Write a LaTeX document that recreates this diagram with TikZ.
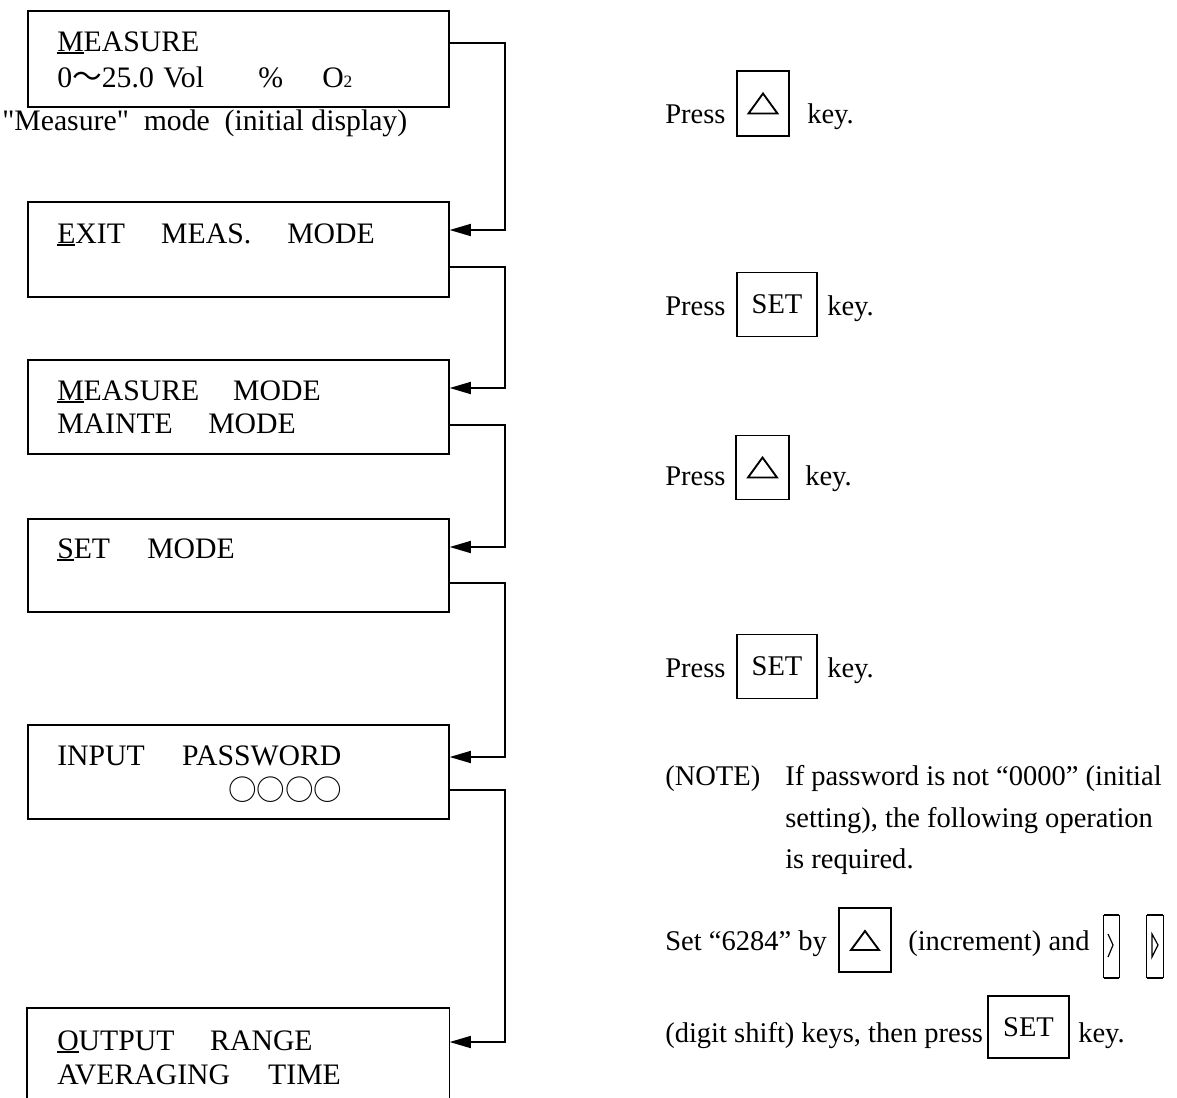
\documentclass[tikz,border=0pt]{standalone}
\usepackage{fontspec}
\setmainfont{Liberation Serif}[Ligatures=TeXOff]
\newfontfamily\cjk{Noto Sans CJK JP}
\usetikzlibrary{arrows.meta,calc}
\newdimen\px \px=0.75pt
\newcommand{\fld}[2]{\makebox[#1\px][l]{#2}}
\newcommand{\ulk}[1]{\setbox0=\hbox{#1}\rlap{\rule[-2.4pt]{\wd0}{1.3pt}}#1}
\newcommand{\dsub}[1]{{\fontsize{13}{13}\selectfont #1}}
\tikzset{
  lcd/.style={rectangle, draw=black, line width=1.2pt, anchor=north west,
    minimum width=421*0.75pt, minimum height=#1*0.75pt, inner sep=0pt},
  lcd/.default=95,
  disp/.style={anchor=base west, inner sep=0pt, font=\fontsize{22.3}{27}\selectfont},
  note/.style={anchor=base west, inner sep=0pt, font=\fontsize{21.4}{26}\selectfont},
  keybox/.style={draw=black, line width=1.4pt, inner sep=0pt, font=\fontsize{21.4}{26}\selectfont,
    minimum width=#1*0.75pt, minimum height=64*0.75pt},
  keybox/.default=52,
  shiftkey/.style={inner sep=0pt, minimum width=#1*0.75pt, minimum height=63*0.75pt},
  flow/.style={-{Triangle[length=16pt,width=9pt]}, line width=1.4pt},
  tri/.style={line width=1.4pt, line join=miter},
}

\begin{document}
\begin{tikzpicture}[x=0.75pt, y=-0.75pt]
    \useasboundingbox (0,0) rectangle (1177,1097);

    \node[lcd=96] (b1) at (27,10) {};
    \node[lcd] (b2) at (27,201) {};
    \node[lcd=94] (b3) at (27,359) {};
    \node[lcd=93] (b4) at (27,518) {};
    \node[lcd=94] (b5) at (27,724) {};
    \node[lcd=89, draw=none] (b6) at (27,1008) {};
    \draw[line width=1.2pt] (b6.south west) -- (b6.north west) -- (b6.north east) -- (b6.south east);

    \node[disp] (t1a) at (57,51) {\ulk{M}EASURE};
    \node[disp] (t1b) at (57,87) {\fld{106}{0{\cjk 〜}25.0}\fld{95}{Vol}\fld{64}{\%}O\dsub{2}};
    \node[disp] (cap) at (2,130) {"Measure"\ \ mode\ \ (initial display)};
    \node[disp] (t2a) at (57,243) {\fld{104}{\ulk{E}XIT}\fld{126}{MEAS.}MODE};
    \node[disp] (t3a) at (57,400) {\fld{176}{\ulk{M}EASURE}MODE};
    \node[disp] (t3b) at (57,433) {\fld{151}{MAINTE}MODE};
    \node[disp] (t4a) at (57,558) {\fld{90}{\ulk{S}ET}MODE};
    \node[disp] (t5a) at (57,765) {\fld{125}{INPUT}PASSWORD};
    \node[disp, font={\cjk\fontsize{21.4}{26}\selectfont}] (t5b) at (228,800) {○○○○};
    \node[disp] (t6a) at (57,1050) {\fld{153}{\ulk{O}UTPUT}RANGE};
    \node[disp] (t6b) at (57,1084) {\fld{211}{AVERAGING}TIME};

    \draw[flow] ($(b1.north east)+(0,33)$) -- ++(55,0) |- ($(b2.north east)+(0,29)$);
    \draw[flow] ($(b2.north east)+(0,66)$) -- ++(55,0) |- ($(b3.north east)+(0,29)$);
    \draw[flow] ($(b3.north east)+(0,66)$) -- ++(55,0) |- ($(b4.north east)+(0,29)$);
    \draw[flow] ($(b4.north east)+(0,65)$) -- ++(55,0) |- ($(b5.north east)+(0,33)$);
    \draw[flow] ($(b5.north east)+(0,66)$) -- ++(55,0) |- ($(b6.north east)+(0,34)$);

    \node[note] (p1) at (665,123) {Press};
    \node[keybox, minimum height=65*0.75pt] (k1) at (763,103.5) {};
    \draw[tri] ($(k1.center)+(-14.5,10)$) -- ++(29,0) -- ++(-14.5,-20) -- cycle;
    \node[note] (y1) at (807,123) {key.};

    \node[note] (p2) at (665,315) {Press};
    \node[keybox=80] (k2) at (777,304.5) {SET};
    \node[note] (y2) at (827,315) {key.};

    \node[note] (p3) at (665,485) {Press};
    \node[keybox=53] (k3) at (762.5,467.5) {};
    \draw[tri] ($(k3.center)+(-14.5,10)$) -- ++(29,0) -- ++(-14.5,-20) -- cycle;
    \node[note] (y3) at (805,485) {key.};

    \node[note] (p4) at (665,677) {Press};
    \node[keybox=80] (k4) at (777,666.5) {SET};
    \node[note] (y4) at (827,677) {key.};

    \node[note] (n0) at (665,785) {(NOTE)};
    \node[note] (n1) at (785,785) {If password is not “0000” (initial};
    \node[note] (n2) at (785,827) {setting), the following operation};
    \node[note] (n3) at (785,868) {is required.};

    \node[note] (s1) at (665,950) {Set “6284” by};
    \node[keybox] (k5) at (865,940) {};
    \draw[tri] ($(k5.center)+(-14,10)$) -- ++(28,0) -- ++(-14,-19) -- cycle;
    \node[note] (s2) at (908,950) {(increment) and};
    \node[shiftkey=15] (k6) at (1111.5,946.5) {};
    \node[shiftkey=16] (k7) at (1155,946.5) {};
    \foreach \k in {k6,k7}{
      \draw[line width=0.6pt] (\k.north west) -- (\k.south west) (\k.north east) -- (\k.south east);
      \draw[line width=1.6pt] (\k.north west) -- (\k.north east) (\k.south west) -- (\k.south east);
    }
    \draw[line width=0.9pt] ($(k6.center)+(-3.5,-12.5)$) -- ++(5,11) -- ++(-5,12);
    \draw[line width=0.9pt] ($(k7.center)+(-3,-12.5)$) -- ++(6,11) -- ++(-6,12) -- cycle;

    \node[note] (s3) at (665,1042) {(digit shift) keys, then press};
    \node[keybox=81, minimum height=62*0.75pt] (k8) at (1028.5,1027) {SET};
    \node[note] (s4) at (1078,1042) {key.};
\end{tikzpicture}
\end{document}
